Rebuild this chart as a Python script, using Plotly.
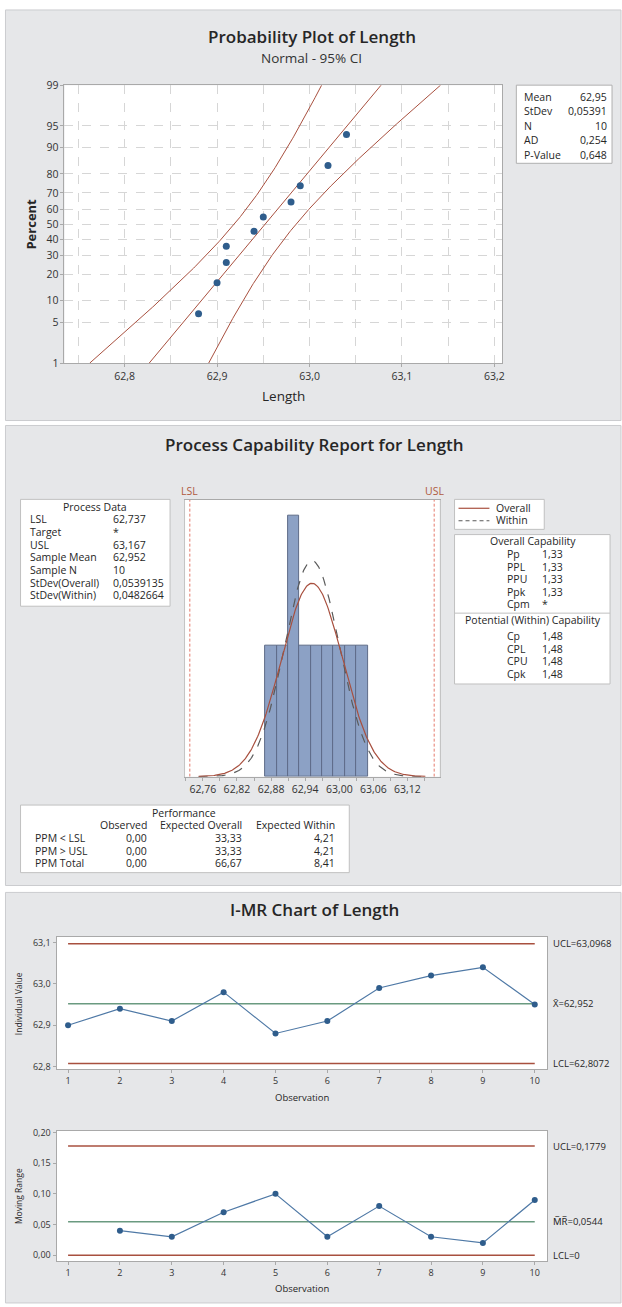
import numpy as np
import plotly.graph_objects as go
from statistics import NormalDist

W, H = 622, 1307
FONT = "Open Sans, Noto Sans, DejaVu Sans, sans-serif"

# ---------------- data ----------------
observation = [1, 2, 3, 4, 5, 6, 7, 8, 9, 10]
length = [62.90, 62.94, 62.91, 62.98, 62.88, 62.91, 62.99, 63.02, 63.04, 62.95]
moving_range = [None, 0.04, 0.03, 0.07, 0.10, 0.03, 0.08, 0.03, 0.02, 0.09]

sorted_length = [62.88, 62.90, 62.91, 62.91, 62.94, 62.95, 62.98, 62.99, 63.02, 63.04]
plot_percent = [6.7, 16.3, 26.0, 35.6, 45.2, 54.8, 64.4, 74.0, 83.7, 93.3]
percent_ticks = [1, 5, 10, 20, 30, 40, 50, 60, 70, 80, 90, 95, 99]
prob_stat_labels = ["Mean", "StDev", "N", "AD", "P-Value"]
prob_stat_values = ["62,95", "0,05391", "10", "0,254", "0,648"]

bin_mid = [62.88, 62.90, 62.92, 62.94, 62.96, 62.98, 63.00, 63.02, 63.04]
bin_count = [1, 1, 2, 1, 1, 1, 1, 1, 1]
bin_width = 0.02
lsl, usl = 62.737, 63.167
sample_mean = 62.952
sample_n = 10
sd_overall, sd_within = 0.0539135, 0.0482664

pd_labels = ["LSL", "Target", "USL", "Sample Mean", "Sample N", "StDev(Overall)", "StDev(Within)"]
pd_values = ["62,737", "*", "63,167", "62,952", "10", "0,0539135", "0,0482664"]
oc_labels = ["Pp", "PPL", "PPU", "Ppk", "Cpm"]
oc_values = ["1,33", "1,33", "1,33", "1,33", "*"]
wc_labels = ["Cp", "CPL", "CPU", "Cpk"]
wc_values = ["1,48", "1,48", "1,48", "1,48"]
perf_rows = ["PPM &lt; LSL", "PPM &gt; USL", "PPM Total"]
perf_observed = ["0,00", "0,00", "0,00"]
perf_exp_overall = ["33,33", "33,33", "66,67"]
perf_exp_within = ["4,21", "4,21", "8,41"]

i_ucl, i_cl, i_lcl = 63.0968, 62.952, 62.8072
mr_ucl, mr_cl, mr_lcl = 0.1779, 0.0544, 0.0
i_labels = ["UCL=63,0968", "X\u0304=62,952", "LCL=62,8072"]
mr_labels = ["UCL=0,1779", "M\u0305R\u0305=0,0544", "LCL=0"]

# ---------------- colours ----------------
PANEL = "#e6e7e9"
PANEL_LINE = "#cbcccf"
RED = "#a8503f"
GREEN = "#6a9a80"
BLUE = "#2f5d8c"
LINE_BLUE = "#4f79a6"
BAR = "#8ca1c5"
BAR_LINE = "#5e6c88"
SPEC = "#e57b6d"
TXT = "#262626"
AX = "#a9a9a9"


def px(x):
    return x / W


def py(y):
    return 1 - y / H


annotations = []
shapes = []


def txt(x, y, s, size=10.5, xanchor="left", yanchor="middle", color=TXT, weight="normal", angle=0):
    annotations.append(dict(x=px(x), y=py(y), xref="paper", yref="paper", text=s, showarrow=False,
                            xanchor=xanchor, yanchor=yanchor, textangle=angle, borderpad=0,
                            font=dict(family=FONT, size=size, color=color, weight=weight)))


def rect(x0, y0, x1, y1, fill="white", line="#b9b9b9", width=1):
    shapes.append(dict(type="rect", xref="paper", yref="paper", x0=px(x0), x1=px(x1), y0=py(y1), y1=py(y0),
                       fillcolor=fill, line=dict(color=line, width=width), layer="below"))


def hline(x0, x1, y, color, dash="solid", width=1):
    shapes.append(dict(type="line", xref="paper", yref="paper", x0=px(x0), x1=px(x1), y0=py(y), y1=py(y),
                       line=dict(color=color, width=width, dash=dash)))


# panels
rect(5.5, 3, 623, 418, fill=PANEL, line=PANEL_LINE)
rect(5.5, 423, 623, 888, fill=PANEL, line=PANEL_LINE)
rect(5.5, 895, 623, 1310, fill=PANEL, line=PANEL_LINE)

# plot-area backgrounds
P1 = (64.7, 79, 504, 360)
P2 = (185.7, 498, 441, 778)
P3 = (56.7, 940, 548.8, 1074)
P4 = (56.7, 1135.7, 548.8, 1267.7)
for p in (P1, P2, P3, P4):
    rect(p[0], p[1], p[2], p[3], fill="white", line="white", width=0)

fig = go.Figure()

# ---------------- Probability plot ----------------
nd = NormalDist()
z_ticks = [nd.inv_cdf(p / 100) for p in percent_ticks]
z_pts = [nd.inv_cdf(p / 100) for p in plot_percent]
z_line = np.linspace(z_ticks[0], z_ticks[-1], 200)
fit = sample_mean + sd_overall * z_line
half = 1.959964 * sd_overall * np.sqrt(1 / sample_n + z_line ** 2 / (2 * sample_n))
for xs in (fit - half, fit, fit + half):
    fig.add_trace(go.Scatter(x=xs, y=z_line, mode="lines", line=dict(color=RED, width=1),
                             xaxis="x", yaxis="y", hoverinfo="skip"))
fig.add_trace(go.Scatter(x=sorted_length, y=z_pts, mode="markers",
                         marker=dict(color=BLUE, size=7), xaxis="x", yaxis="y"))

# ---------------- Capability histogram ----------------
fig.add_trace(go.Bar(x=bin_mid, y=bin_count, width=bin_width, marker=dict(color=BAR, line=dict(color=BAR_LINE, width=1)),
                     xaxis="x2", yaxis="y2"))
xc = np.linspace(sample_mean - 3.7 * sd_overall, sample_mean + 3.7 * sd_overall, 300)
for sd, style, col in ((sd_within, "dash", "#5a5a5a"), (sd_overall, "solid", RED)):
    yc = sample_n * bin_width * np.exp(-0.5 * ((xc - sample_mean) / sd) ** 2) / (sd * np.sqrt(2 * np.pi))
    fig.add_trace(go.Scatter(x=xc, y=yc, mode="lines", line=dict(color=col, width=1.2, dash=style),
                             xaxis="x2", yaxis="y2", hoverinfo="skip"))
for v in (lsl, usl):
    fig.add_trace(go.Scatter(x=[v, v], y=[0, 2.12], mode="lines", line=dict(color=SPEC, width=1, dash="3px,2px"),
                             xaxis="x2", yaxis="y2", hoverinfo="skip"))

# ---------------- I chart ----------------
x_first, x_last = observation[0], observation[-1]
for v, c in ((i_ucl, RED), (i_cl, GREEN), (i_lcl, RED)):
    fig.add_trace(go.Scatter(x=[x_first, x_last], y=[v, v], mode="lines", line=dict(color=c, width=1.5),
                             xaxis="x3", yaxis="y3", hoverinfo="skip"))
fig.add_trace(go.Scatter(x=observation, y=length, mode="lines+markers", line=dict(color=LINE_BLUE, width=1.2),
                         marker=dict(color=BLUE, size=6), xaxis="x3", yaxis="y3"))

# ---------------- MR chart ----------------
for v, c in ((mr_ucl, RED), (mr_cl, GREEN), (mr_lcl, RED)):
    fig.add_trace(go.Scatter(x=[x_first, x_last], y=[v, v], mode="lines", line=dict(color=c, width=1.5),
                             xaxis="x4", yaxis="y4", hoverinfo="skip"))
fig.add_trace(go.Scatter(x=observation, y=moving_range, mode="lines+markers", line=dict(color=LINE_BLUE, width=1.2),
                         marker=dict(color=BLUE, size=6), xaxis="x4", yaxis="y4", connectgaps=False))


def dom_x(p):
    return [px(p[0]), px(p[2])]


def dom_y(p):
    return [py(p[3]), py(p[1])]


tickfont = dict(family=FONT, size=10.5, color="#333333")
small_tf = dict(family=FONT, size=9, color="#333333")
common = dict(showline=True, mirror=True, linecolor=AX, linewidth=1, zeroline=False, ticks="outside",
              ticklen=3, tickcolor=AX)

layout_axes = dict(
    xaxis=dict(domain=dom_x(P1), anchor="y", range=[62.735, 63.2086], tick0=62.8, dtick=0.1, tickformat=".1f",
               showgrid=True, gridcolor="#d6d6d6", griddash="dash", tickfont=tickfont,
               minor=dict(dtick=0.05, showgrid=True, gridcolor="#d6d6d6", griddash="dash"), **common),
    yaxis=dict(domain=dom_y(P1), anchor="x", range=[z_ticks[0], z_ticks[-1]], tickvals=z_ticks,
               ticktext=[str(p) for p in percent_ticks], showgrid=True, gridcolor="#d6d6d6", griddash="dash",
               tickfont=tickfont, **common),
    xaxis2=dict(domain=dom_x(P2), anchor="y2", range=[62.7287, 63.1765], tick0=62.76, dtick=0.06,
                tickformat=".2f", showgrid=False, tickfont=dict(family=FONT, size=10.5, color="#333333"),
                minor=dict(dtick=0.03, ticks="outside", ticklen=3, tickcolor=AX), **common),
    yaxis2=dict(domain=dom_y(P2), anchor="x2", range=[0, 2.12], showgrid=False, showticklabels=False,
                showline=True, mirror=True, linecolor="#c4c4c4", zeroline=False, ticks=""),
    xaxis3=dict(domain=dom_x(P3), anchor="y3", range=[0.777, 10.237], tickvals=observation, showgrid=False,
                tickfont=small_tf, **common),
    yaxis3=dict(domain=dom_y(P3), anchor="x3", range=[62.7928, 63.1136], tickvals=[62.8, 62.9, 63.0, 63.1],
                tickformat=".1f", showgrid=False, tickfont=small_tf, **common),
    xaxis4=dict(domain=dom_x(P4), anchor="y4", range=[0.777, 10.237], tickvals=observation, showgrid=False,
                tickfont=small_tf, **common),
    yaxis4=dict(domain=dom_y(P4), anchor="x4", range=[-0.0097, 0.2032], tickvals=[0, 0.05, 0.10, 0.15, 0.20],
                tickformat=".2f", showgrid=False, tickfont=small_tf, **common),
)

# ---------------- texts: panel 1 ----------------
txt(313, 30, "Probability Plot of Length", size=17, xanchor="center", weight=600)
txt(313, 52, "Normal - 95% CI", size=13.5, xanchor="center", color="#333333")
txt(31, 219, "Percent", size=13, xanchor="center", weight="bold", angle=-90)
txt(284, 393, "Length", size=13.5, xanchor="center")
rect(518, 79, 614, 158, fill="white", line="#b0b0b0")
for i, (lab, val) in enumerate(zip(prob_stat_labels, prob_stat_values)):
    y = 90.7 + i * 14.6
    txt(525, y, lab, size=10.5)
    txt(610, y, val, size=10.5, xanchor="right")

# ---------------- texts: panel 2 ----------------
txt(316, 442, "Process Capability Report for Length", size=17, xanchor="center", weight=600)
txt(190, 489, "LSL", size=10.5, xanchor="center", color="#b05a40")
txt(436, 489, "USL", size=10.5, xanchor="center", color="#b05a40")

rect(20.6, 497.7, 170.6, 605.7, fill="white", line="#c0c0c0")
txt(95, 505, "Process Data", size=10.5, xanchor="center")
for i, (lab, val) in enumerate(zip(pd_labels, pd_values)):
    y = 518 + i * 12.8
    txt(28.6, y, lab, size=10.5)
    txt(112, y, val, size=10.5)

rect(456, 497.7, 546, 528, fill="white", line="#c0c0c0")
hline(460, 491, 506.7, RED, width=1.2)
hline(460, 491, 519.3, "#5a5a5a", dash="4px,3px", width=1.2)
txt(497, 506, "Overall", size=10.5)
txt(497, 518.5, "Within", size=10.5)

rect(456, 533.3, 612, 684.3, fill="white", line="#c0c0c0")
hline(456, 612, 612.7, "#c0c0c0")
txt(534.5, 540, "Overall Capability", size=10.5, xanchor="center")
for i, (lab, val) in enumerate(zip(oc_labels, oc_values)):
    y = 553 + i * 12.7
    txt(508, y, lab, size=10.5)
    txt(542.5, y, val, size=10.5)
txt(534.5, 620, "Potential (Within) Capability", size=10.5, xanchor="center")
for i, (lab, val) in enumerate(zip(wc_labels, wc_values)):
    y = 636 + i * 12.7
    txt(508, y, lab, size=10.5)
    txt(542.5, y, val, size=10.5)

rect(20.6, 806.7, 350.4, 875, fill="white", line="#c0c0c0")
txt(185, 814.3, "Performance", size=10.5, xanchor="center")
txt(148, 827.3, "Observed", size=10.5, xanchor="right")
txt(243.7, 827.3, "Expected Overall", size=10.5, xanchor="right")
txt(337.3, 827.3, "Expected Within", size=10.5, xanchor="right")
for i in range(3):
    y = 840 + i * 12.8
    txt(33.7, y, perf_rows[i], size=10.5)
    txt(148, y, perf_observed[i], size=10.5, xanchor="right")
    txt(243.7, y, perf_exp_overall[i], size=10.5, xanchor="right")
    txt(337.3, y, perf_exp_within[i], size=10.5, xanchor="right")

# ---------------- texts: panel 3 ----------------
txt(316, 912, "I-MR Chart of Length", size=17, xanchor="center", weight=600)
txt(18, 1007, "Individual Value", size=8.5, xanchor="center", angle=-90)
txt(18, 1202, "Moving Range", size=8.5, xanchor="center", angle=-90)
txt(302.7, 1102.3, "Observation", size=9.5, xanchor="center")
txt(302.7, 1295, "Observation", size=9.5, xanchor="center")

i_rng = (62.7928, 63.1136)
for v, lab in zip((i_ucl, i_cl, i_lcl), i_labels):
    y = P3[3] - (v - i_rng[0]) / (i_rng[1] - i_rng[0]) * (P3[3] - P3[1])
    txt(553.5, y, lab, size=9.5)
m_rng = (-0.0097, 0.2032)
for v, lab in zip((mr_ucl, mr_cl, mr_lcl), mr_labels):
    y = P4[3] - (v - m_rng[0]) / (m_rng[1] - m_rng[0]) * (P4[3] - P4[1])
    txt(553.5, y, lab, size=9.5)

fig.update_layout(
    width=W, height=H, autosize=False, margin=dict(l=0, r=0, t=0, b=0, pad=0),
    paper_bgcolor="white", plot_bgcolor="white", showlegend=False, separators=",.",
    font=dict(family=FONT, size=10, color=TXT), bargap=0,
    shapes=shapes, annotations=annotations, **layout_axes,
)

fig.write_html("out.html", config={"displayModeBar": False},
               post_script="document.body.style.margin='0';document.documentElement.style.overflow='hidden';")
